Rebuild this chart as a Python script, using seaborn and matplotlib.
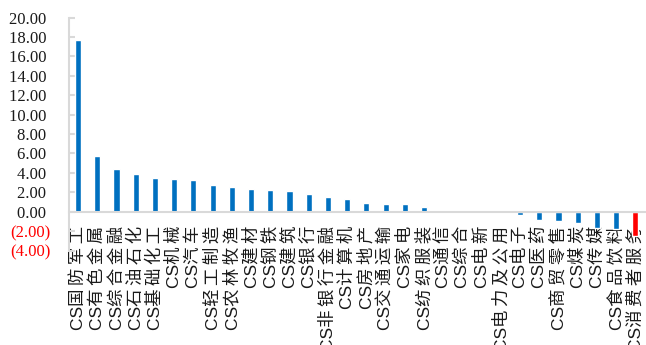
import matplotlib
matplotlib.use("Agg")
import matplotlib.pyplot as plt
import seaborn as sns
import pandas as pd

# CITIC (CS) industry returns, sorted high to low
industries = [
    "CS国防军工", "CS有色金属", "CS综合金融", "CS石油石化", "CS基础化工",
    "CS机械", "CS汽车", "CS轻工制造", "CS农林牧渔", "CS建材",
    "CS钢铁", "CS建筑", "CS银行", "CS非银行金融", "CS计算机",
    "CS房地产", "CS交通运输", "CS家电", "CS纺织服装", "CS通信",
    "CS综合", "CS电新", "CS电力及公用", "CS电子", "CS医药",
    "CS商贸零售", "CS煤炭", "CS传媒", "CS食品饮料", "CS消费者服务",
]
returns = [
    17.70, 5.70, 4.40, 3.87, 3.45,
    3.33, 3.22, 2.78, 2.57, 2.32,
    2.22, 2.12, 1.82, 1.50, 1.27,
    0.93, 0.83, 0.83, 0.52, 0.00,
    0.00, 0.00, 0.00, -0.30, -0.86,
    -1.00, -1.18, -1.65, -1.75, -2.55,
]
highlight = "CS消费者服务"
y_ticks = list(range(-4, 21, 2))

BLUE = "#0070C0"
RED = "#FF0000"
GRID_GRAY = "#D9D9D9"

df = pd.DataFrame({"industry": industries, "ret": returns})
palette = {name: (RED if name == highlight else BLUE) for name in industries}

sns.set_style("white")
plt.rcParams["font.family"] = ["Liberation Sans", "Noto Sans CJK SC"]

fig = plt.figure(figsize=(6.46, 3.45), dpi=100)
ax = fig.add_axes([68.5 / 646, (345 - 250.5) / 345, 576.5 / 646, 233 / 345])

sns.barplot(data=df, x="industry", y="ret", hue="industry", palette=palette,
            width=0.32, legend=False, saturation=1, ax=ax)

ax.set_xlim(-0.5, len(industries) - 0.5)
ax.set_ylim(-4, 20)
ax.set_xlabel("")
ax.set_ylabel("")

# Axis lines: left spine plus a zero baseline carrying the category labels
for side in ("top", "right"):
    ax.spines[side].set_visible(False)
ax.spines["left"].set_color(GRID_GRAY)
ax.spines["left"].set_linewidth(1.5)
ax.spines["bottom"].set_position(("data", 0))
ax.spines["bottom"].set_color(GRID_GRAY)
ax.spines["bottom"].set_linewidth(1.5)

# Y ticks in accounting style: negatives in red parentheses
ax.set_yticks(y_ticks)
ylabels = [f"{v:.2f} " if v >= 0 else f"({abs(v):.2f})" for v in y_ticks]
ax.set_yticklabels(ylabels, family=["Liberation Serif"], fontsize=12)
for lab, v in zip(ax.get_yticklabels(), y_ticks):
    lab.set_color(RED if v < 0 else "#1A1A1A")
ax.tick_params(axis="y", direction="in", length=4, width=1.5,
               color=GRID_GRAY, pad=13, left=True)


def spaced(name):
    # loosen the Chinese characters a little, keeping the "CS" prefix tight
    return name[:2] + "\u2009".join(name[2:])


ax.set_xticks(range(len(industries)))
ax.set_xticklabels([spaced(n) for n in industries], rotation=90,
                   ha="center", va="top", fontsize=12.5, color="#1A1A1A",
                   family=["Liberation Sans", "Noto Sans CJK SC"])
ax.tick_params(axis="x", length=0, pad=10)

fig.savefig("out.png", dpi=100)
